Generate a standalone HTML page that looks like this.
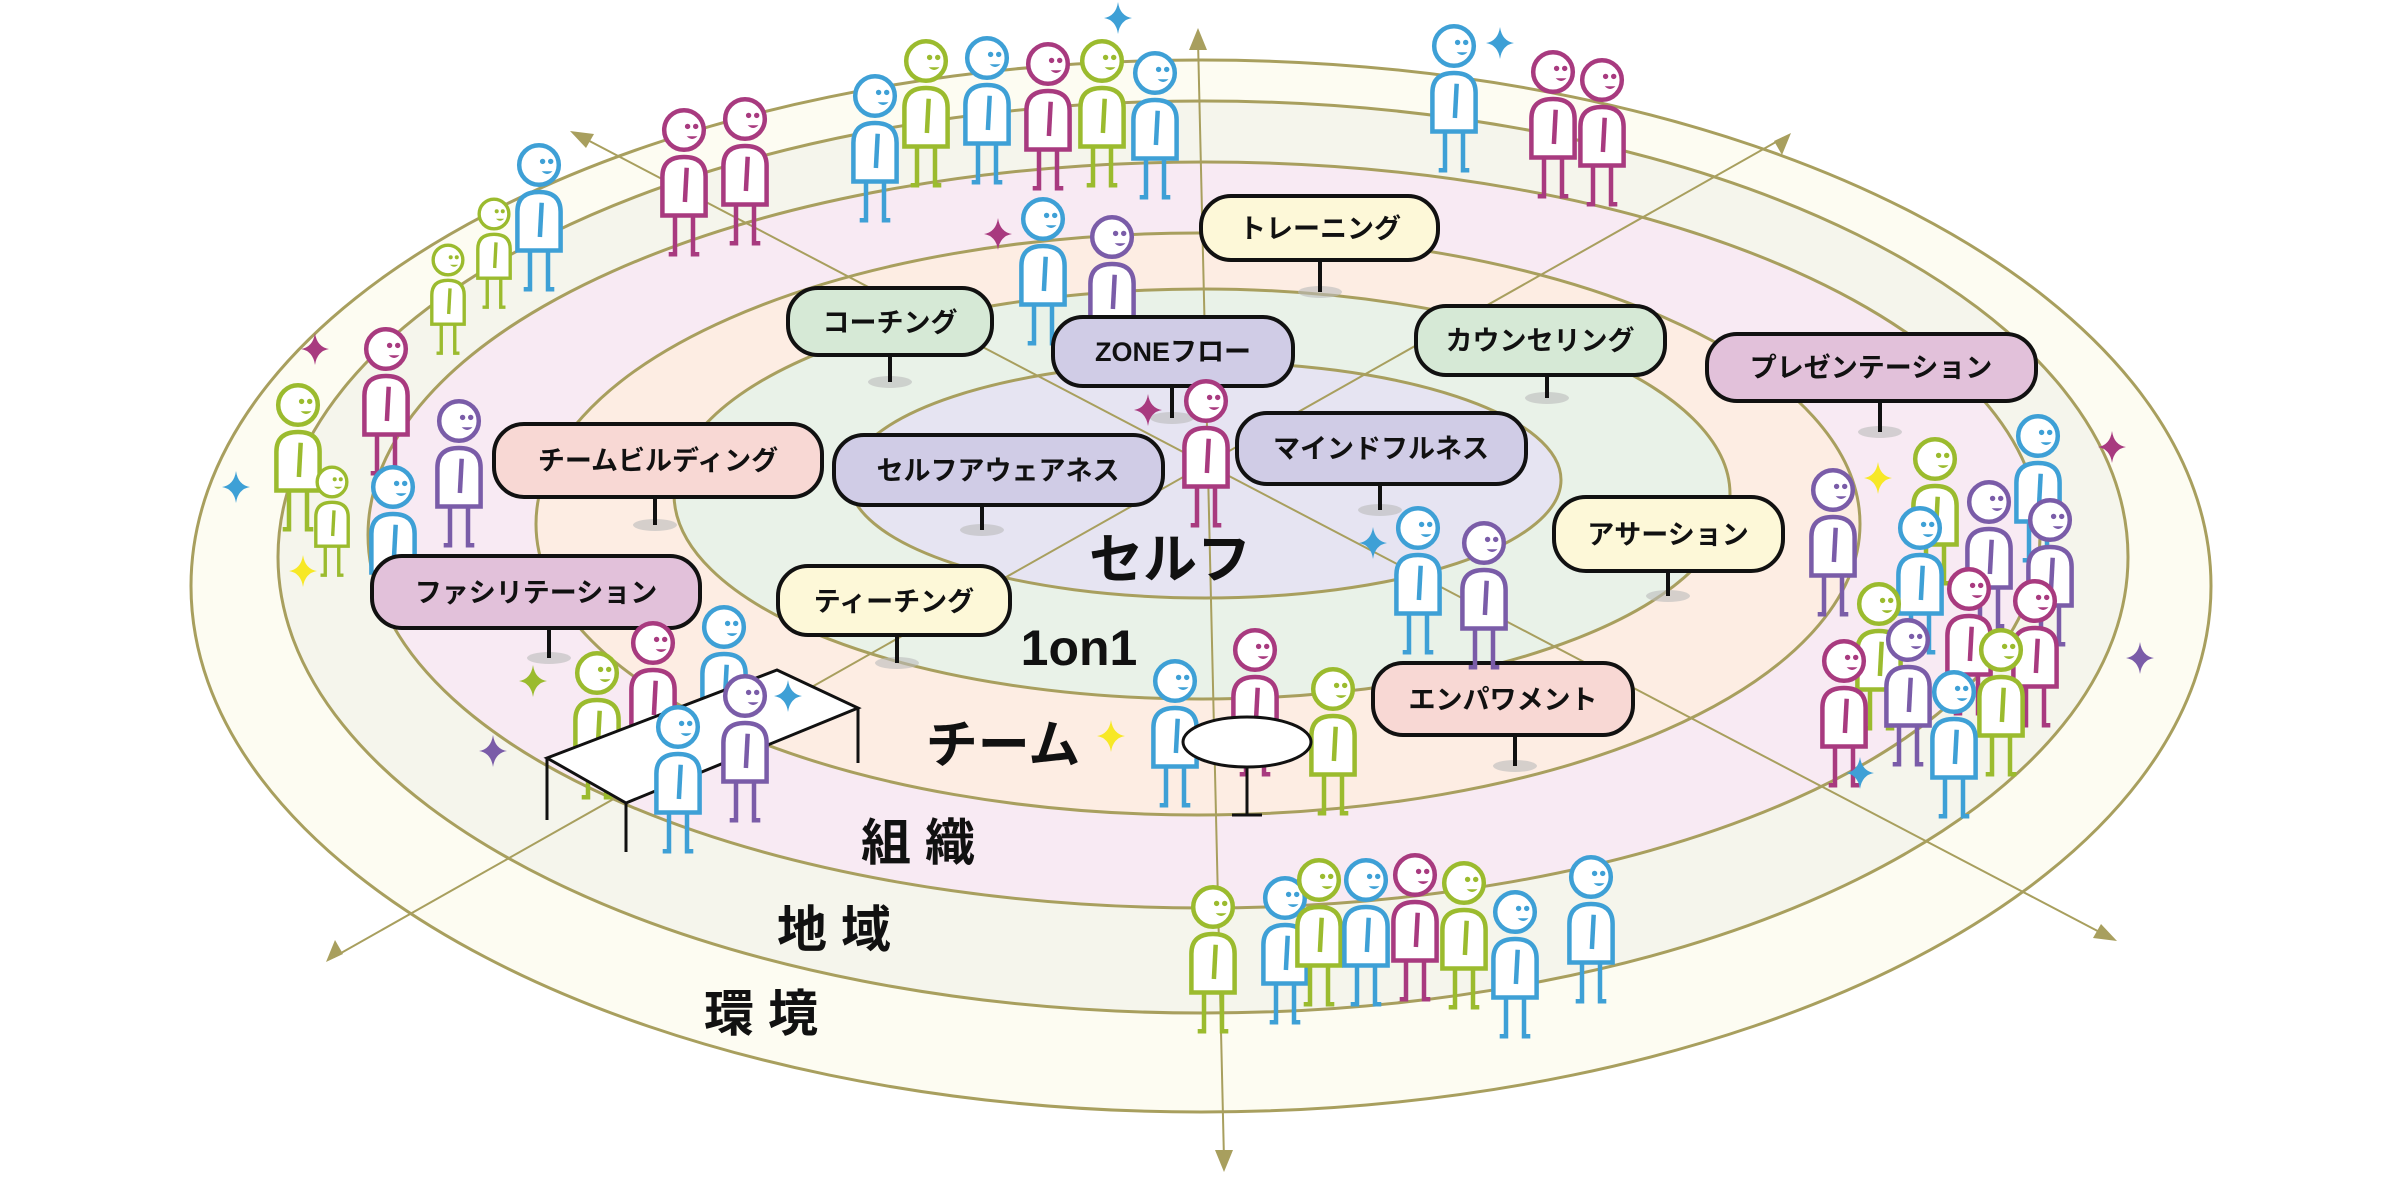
<!DOCTYPE html>
<html><head><meta charset="utf-8"><style>
html,body{margin:0;padding:0;background:#fff;width:2400px;height:1178px;overflow:hidden}
svg{display:block}
text{font-family:"Liberation Sans","Noto Sans CJK JP",sans-serif;font-weight:bold;fill:#111}
</style></head><body>
<svg width="2400" height="1178" viewBox="0 0 2400 1178" xmlns="http://www.w3.org/2000/svg">
<defs>
<g id="p"><g transform="scale(0.9)">
<path d="M-10,95 V138 h-7 M10,95 V138 h7" fill="none" stroke="currentColor" stroke-width="5"/>
<path d="M-24,95 V52 Q-24,30 0,30 Q24,30 24,52 V95 Z" fill="#fff" stroke="currentColor" stroke-width="5"/>
<path d="M3,42 L1,80" fill="none" stroke="currentColor" stroke-width="5"/>
<circle r="22" fill="#fff" stroke="currentColor" stroke-width="5"/>
<circle cx="4" cy="-4" r="3" fill="currentColor"/><circle cx="13" cy="-4" r="3" fill="currentColor"/>
<path d="M3,7 Q9,13 15,7 Z" fill="currentColor"/>
</g></g>
<path id="s" d="M0,-16 Q2,-2 14,0 Q2,2 0,16 Q-2,2 -14,0 Q-2,-2 0,-16Z"/>
</defs>
<g stroke="#a89f5e" stroke-width="3">
<ellipse cx="1201" cy="586" rx="1010" ry="526" fill="#fdfcf2"/>
<ellipse cx="1203" cy="557" rx="925" ry="456" fill="#f5f5ec"/>
<ellipse cx="1204" cy="535" rx="836" ry="373" fill="#f8eaf3"/>
<ellipse cx="1198" cy="524" rx="662" ry="291" fill="#fdede3"/>
<ellipse cx="1202" cy="494" rx="528" ry="205" fill="#e9f2e8"/>
<ellipse cx="1205" cy="480" rx="356" ry="118" fill="#e6e4f2"/>
</g>
<g stroke="#a89f5e" stroke-width="2" fill="none">
<line x1="1198" y1="40" x2="1224" y2="1160"/>
<line x1="578" y1="135" x2="2109" y2="937"/>
<line x1="1783" y1="138" x2="334" y2="957"/>
</g>
<g fill="#a89f5e">
<path d="M1198,28 l-9,22 h18z"/><path d="M1224,1172 l-9,-22 h18z"/>
<path d="M570,131 l24,3 l-8,14z"/><path d="M2117,941 l-24,-3 l8,-14z"/>
<path d="M1791,133 l-9,22 l-8,-14z"/><path d="M326,962 l9,-22 l8,14z"/>
</g>
<text x="1170" y="578" font-size="54" text-anchor="middle">セルフ</text>
<text x="1079" y="665" font-size="50" text-anchor="middle">1on1</text>
<text x="1003" y="763" font-size="52" text-anchor="middle">チーム</text>
<text x="918" y="860" font-size="50" text-anchor="middle">組 織</text>
<text x="834" y="947" font-size="50" text-anchor="middle">地 域</text>
<text x="761" y="1031" font-size="50" text-anchor="middle">環 境</text>
<g>
<use href="#p" transform="translate(1454,46)" style="color:#3ea0d6"/>
<use href="#p" transform="translate(987,58)" style="color:#3ea0d6"/>
<use href="#p" transform="translate(926,61)" style="color:#9bbb2e"/>
<use href="#p" transform="translate(1102,61)" style="color:#9bbb2e"/>
<use href="#p" transform="translate(1048,64)" style="color:#a83a7f"/>
<use href="#p" transform="translate(1553,72)" style="color:#a83a7f"/>
<use href="#p" transform="translate(1155,73)" style="color:#3ea0d6"/>
<use href="#p" transform="translate(1602,80)" style="color:#a83a7f"/>
<use href="#p" transform="translate(875,96)" style="color:#3ea0d6"/>
<use href="#p" transform="translate(745,119)" style="color:#a83a7f"/>
<use href="#p" transform="translate(684,130)" style="color:#a83a7f"/>
<use href="#p" transform="translate(539,165)" style="color:#3ea0d6"/>
<use href="#p" transform="translate(494,214) scale(0.75)" style="color:#9bbb2e"/>
<use href="#p" transform="translate(448,260) scale(0.75)" style="color:#9bbb2e"/>
<use href="#p" transform="translate(1043,219)" style="color:#3ea0d6"/>
<use href="#p" transform="translate(1112,237)" style="color:#7a5ca8"/>
<use href="#p" transform="translate(386,349)" style="color:#a83a7f"/>
<use href="#p" transform="translate(298,405)" style="color:#9bbb2e"/>
<use href="#p" transform="translate(459,421)" style="color:#7a5ca8"/>
<use href="#p" transform="translate(393,487)" style="color:#3ea0d6"/>
<use href="#p" transform="translate(332,482) scale(0.75)" style="color:#9bbb2e"/>
</g>
<g stroke="#111" stroke-width="4">
<g fill="#bbb" stroke="none" opacity="0.6">
<ellipse cx="1320" cy="292" rx="22" ry="6"/><ellipse cx="890" cy="382" rx="22" ry="6"/><ellipse cx="1172" cy="418" rx="22" ry="6"/>
<ellipse cx="1547" cy="398" rx="22" ry="6"/><ellipse cx="1880" cy="432" rx="22" ry="6"/><ellipse cx="655" cy="525" rx="22" ry="6"/>
<ellipse cx="982" cy="530" rx="22" ry="6"/><ellipse cx="1380" cy="510" rx="22" ry="6"/><ellipse cx="1668" cy="596" rx="22" ry="6"/>
<ellipse cx="549" cy="658" rx="22" ry="6"/><ellipse cx="897" cy="663" rx="22" ry="6"/><ellipse cx="1515" cy="766" rx="22" ry="6"/>
</g>
<path d="M1320,260V292M890,355V382M1172,386V418M1547,375V398M1880,401V432M655,497V525M982,505V530M1380,484V510M1668,571V596M549,628V658M897,635V663M1515,735V766"/>
<rect x="1201" y="196" width="237" height="64" rx="30" fill="#fdf8d8"/>
<rect x="788" y="288" width="204" height="67" rx="30" fill="#d6e9d6"/>
<rect x="1416" y="306" width="249" height="69" rx="30" fill="#d6e9d6"/>
<rect x="1707" y="334" width="329" height="67" rx="30" fill="#e2c1da"/>
<rect x="494" y="424" width="328" height="73" rx="30" fill="#f8d8d4"/>
<rect x="834" y="435" width="329" height="70" rx="30" fill="#d0cce6"/>
<rect x="1237" y="413" width="289" height="71" rx="30" fill="#d0cce6"/>
<rect x="1554" y="497" width="229" height="74" rx="32" fill="#fdf8d8"/>
<rect x="372" y="556" width="328" height="72" rx="30" fill="#e2c1da"/>
<rect x="778" y="566" width="232" height="69" rx="30" fill="#fdf8d8"/>
<rect x="1373" y="663" width="260" height="72" rx="30" fill="#f8d8d4"/>
<rect x="1053" y="317" width="240" height="69" rx="30" fill="#d0cce6"/>
</g>
<g font-size="27" text-anchor="middle">
<text x="1320" y="238">トレーニング</text>
<text x="890" y="332">コーチング</text>
<text x="1540" y="350">カウンセリング</text>
<text x="1871" y="377">プレゼンテーション</text>
<text x="658" y="470">チームビルディング</text>
<text x="998" y="480">セルフアウェアネス</text>
<text x="1381" y="458">マインドフルネス</text>
<text x="1668" y="544">アサーション</text>
<text x="536" y="602">ファシリテーション</text>
<text x="894" y="611">ティーチング</text>
<text x="1503" y="709">エンパワメント</text>
<text x="1173" y="361">ZONEフロー</text>
</g>
<use href="#p" transform="translate(1206,401)" style="color:#a83a7f"/>
<use href="#p" transform="translate(1418,528)" style="color:#3ea0d6"/>
<use href="#p" transform="translate(1484,543)" style="color:#7a5ca8"/>
<use href="#p" transform="translate(2038,436)" style="color:#3ea0d6"/>
<use href="#p" transform="translate(1935,459)" style="color:#9bbb2e"/>
<use href="#p" transform="translate(1833,490)" style="color:#7a5ca8"/>
<use href="#p" transform="translate(1989,502)" style="color:#7a5ca8"/>
<use href="#p" transform="translate(2050,520)" style="color:#7a5ca8"/>
<use href="#p" transform="translate(1920,528)" style="color:#3ea0d6"/>
<use href="#p" transform="translate(1969,589)" style="color:#a83a7f"/>
<use href="#p" transform="translate(2035,601)" style="color:#a83a7f"/>
<use href="#p" transform="translate(1879,604)" style="color:#9bbb2e"/>
<use href="#p" transform="translate(1908,640)" style="color:#7a5ca8"/>
<use href="#p" transform="translate(2001,650)" style="color:#9bbb2e"/>
<use href="#p" transform="translate(1844,661)" style="color:#a83a7f"/>
<use href="#p" transform="translate(1954,692)" style="color:#3ea0d6"/>
<use href="#p" transform="translate(724,627)" style="color:#3ea0d6"/>
<use href="#p" transform="translate(653,643)" style="color:#a83a7f"/>
<use href="#p" transform="translate(597,673)" style="color:#9bbb2e"/>
<g stroke="#111" stroke-width="3" fill="#fff">
<path d="M547,758V820M626,803V852M858,708V763M777,670V700"/>
<path d="M547,758L777,670L858,708L626,803Z"/>
</g>
<use href="#p" transform="translate(678,727)" style="color:#3ea0d6"/>
<use href="#p" transform="translate(745,696)" style="color:#7a5ca8"/>
<use href="#p" transform="translate(1255,650)" style="color:#a83a7f"/>
<use href="#p" transform="translate(1175,681)" style="color:#3ea0d6"/>
<use href="#p" transform="translate(1333,689)" style="color:#9bbb2e"/>
<g stroke="#111" stroke-width="3" fill="#fff">
<path d="M1247,755V815M1232,815h30"/>
<ellipse cx="1247" cy="742" rx="64" ry="25"/>
</g>
<use href="#p" transform="translate(1285,898)" style="color:#3ea0d6"/>
<use href="#p" transform="translate(1319,880)" style="color:#9bbb2e"/>
<use href="#p" transform="translate(1366,880)" style="color:#3ea0d6"/>
<use href="#p" transform="translate(1415,875)" style="color:#a83a7f"/>
<use href="#p" transform="translate(1464,883)" style="color:#9bbb2e"/>
<use href="#p" transform="translate(1591,877)" style="color:#3ea0d6"/>
<use href="#p" transform="translate(1213,907)" style="color:#9bbb2e"/>
<use href="#p" transform="translate(1515,912)" style="color:#3ea0d6"/>
<use href="#s" transform="translate(1118,18)" fill="#3ea0d6"/>
<use href="#s" transform="translate(1500,43)" fill="#3ea0d6"/>
<use href="#s" transform="translate(998,234)" fill="#a83a7f"/>
<use href="#s" transform="translate(315,349)" fill="#a83a7f"/>
<use href="#s" transform="translate(236,487)" fill="#3ea0d6"/>
<use href="#s" transform="translate(303,571)" fill="#f7e826"/>
<use href="#s" transform="translate(1148,410)" fill="#a83a7f"/>
<use href="#s" transform="translate(1373,543)" fill="#3ea0d6"/>
<use href="#s" transform="translate(1878,478)" fill="#f7e826"/>
<use href="#s" transform="translate(2112,447)" fill="#a83a7f"/>
<use href="#s" transform="translate(2140,658)" fill="#7a5ca8"/>
<use href="#s" transform="translate(1860,773)" fill="#3ea0d6"/>
<use href="#s" transform="translate(533,681)" fill="#9bbb2e"/>
<use href="#s" transform="translate(788,696)" fill="#3ea0d6"/>
<use href="#s" transform="translate(493,751)" fill="#7a5ca8"/>
<use href="#s" transform="translate(1111,736)" fill="#f7e826"/>
</svg>
</body></html>
